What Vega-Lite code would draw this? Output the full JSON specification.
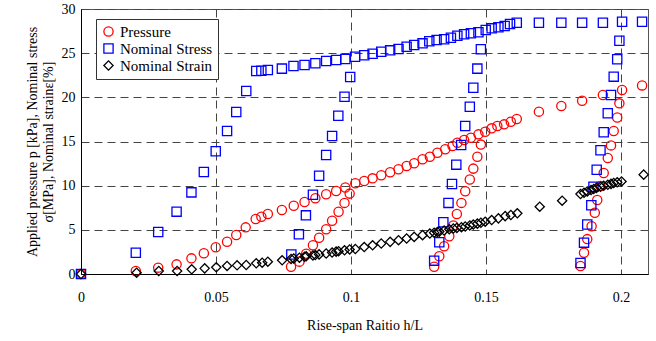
{
  "$schema": "https://vega.github.io/schema/vega-lite/v6.json",
  "width": 567,
  "height": 265,
  "autosize": {"type": "none"},
  "padding": {"left": 81, "top": 9, "right": 8, "bottom": 67},
  "background": "white",
  "config": {
    "font": "Liberation Serif",
    "view": {"stroke": "#555", "strokeWidth": 1},
    "axis": {
      "labelFont": "Liberation Serif",
      "titleFont": "Liberation Serif",
      "labelFontSize": 14,
      "titleFontSize": 14,
      "labelColor": "#000",
      "titleColor": "#000",
      "titleFontWeight": "normal",
      "domainColor": "#000",
      "grid": true,
      "gridColor": "#444",
      "gridDash": [8, 5],
      "gridOpacity": 1,
      "gridWidth": 1,
      "ticks": false
    },
    "legend": {
      "labelFont": "Liberation Serif",
      "labelFontSize": 14,
      "labelColor": "#000"
    }
  },
  "datasets": {
    "pts": [
      {"s": "Pressure", "x": 0, "y": 0},
      {"s": "Pressure", "x": 0.0203, "y": 0.34},
      {"s": "Pressure", "x": 0.0286, "y": 0.72},
      {"s": "Pressure", "x": 0.0354, "y": 1.09},
      {"s": "Pressure", "x": 0.0409, "y": 1.77},
      {"s": "Pressure", "x": 0.0455, "y": 2.34},
      {"s": "Pressure", "x": 0.0499, "y": 3.02},
      {"s": "Pressure", "x": 0.0541, "y": 3.66},
      {"s": "Pressure", "x": 0.0575, "y": 4.42},
      {"s": "Pressure", "x": 0.061, "y": 5.28},
      {"s": "Pressure", "x": 0.0647, "y": 6.23},
      {"s": "Pressure", "x": 0.0668, "y": 6.49},
      {"s": "Pressure", "x": 0.0692, "y": 6.79},
      {"s": "Pressure", "x": 0.0744, "y": 7.25},
      {"s": "Pressure", "x": 0.0788, "y": 7.73},
      {"s": "Pressure", "x": 0.0828, "y": 8.15},
      {"s": "Pressure", "x": 0.0868, "y": 8.57},
      {"s": "Pressure", "x": 0.0908, "y": 9.02},
      {"s": "Pressure", "x": 0.0945, "y": 9.4},
      {"s": "Pressure", "x": 0.0979, "y": 9.79},
      {"s": "Pressure", "x": 0.1016, "y": 10.27},
      {"s": "Pressure", "x": 0.1049, "y": 10.53},
      {"s": "Pressure", "x": 0.108, "y": 10.83},
      {"s": "Pressure", "x": 0.1112, "y": 11.17},
      {"s": "Pressure", "x": 0.1145, "y": 11.51},
      {"s": "Pressure", "x": 0.1176, "y": 11.85},
      {"s": "Pressure", "x": 0.1206, "y": 12.23},
      {"s": "Pressure", "x": 0.1234, "y": 12.53},
      {"s": "Pressure", "x": 0.1265, "y": 12.99},
      {"s": "Pressure", "x": 0.1292, "y": 13.28},
      {"s": "Pressure", "x": 0.132, "y": 13.73},
      {"s": "Pressure", "x": 0.1349, "y": 14.12},
      {"s": "Pressure", "x": 0.1376, "y": 14.49},
      {"s": "Pressure", "x": 0.1394, "y": 14.86},
      {"s": "Pressure", "x": 0.1419, "y": 15.17},
      {"s": "Pressure", "x": 0.1444, "y": 15.43},
      {"s": "Pressure", "x": 0.1472, "y": 15.81},
      {"s": "Pressure", "x": 0.1497, "y": 16.11},
      {"s": "Pressure", "x": 0.1521, "y": 16.49},
      {"s": "Pressure", "x": 0.1542, "y": 16.76},
      {"s": "Pressure", "x": 0.1567, "y": 16.94},
      {"s": "Pressure", "x": 0.1592, "y": 17.24},
      {"s": "Pressure", "x": 0.1614, "y": 17.55},
      {"s": "Pressure", "x": 0.1696, "y": 18.38},
      {"s": "Pressure", "x": 0.1779, "y": 19.02},
      {"s": "Pressure", "x": 0.1856, "y": 19.62},
      {"s": "Pressure", "x": 0.1933, "y": 20.26},
      {"s": "Pressure", "x": 0.2004, "y": 20.83},
      {"s": "Pressure", "x": 0.2078, "y": 21.35},
      {"s": "Pressure", "x": 0.0778, "y": 0.83},
      {"s": "Pressure", "x": 0.0809, "y": 1.4},
      {"s": "Pressure", "x": 0.0834, "y": 2.3},
      {"s": "Pressure", "x": 0.0859, "y": 3.25},
      {"s": "Pressure", "x": 0.0882, "y": 4.11},
      {"s": "Pressure", "x": 0.0908, "y": 5.06},
      {"s": "Pressure", "x": 0.093, "y": 6.02},
      {"s": "Pressure", "x": 0.0954, "y": 7.05},
      {"s": "Pressure", "x": 0.0976, "y": 8.05},
      {"s": "Pressure", "x": 0.0995, "y": 9.1},
      {"s": "Pressure", "x": 0.1308, "y": 0.83},
      {"s": "Pressure", "x": 0.1327, "y": 2.0},
      {"s": "Pressure", "x": 0.1345, "y": 3.15},
      {"s": "Pressure", "x": 0.1364, "y": 4.28},
      {"s": "Pressure", "x": 0.1379, "y": 5.5},
      {"s": "Pressure", "x": 0.1392, "y": 6.79},
      {"s": "Pressure", "x": 0.1409, "y": 8.05},
      {"s": "Pressure", "x": 0.1423, "y": 9.36},
      {"s": "Pressure", "x": 0.144, "y": 10.7},
      {"s": "Pressure", "x": 0.1453, "y": 11.93},
      {"s": "Pressure", "x": 0.1468, "y": 13.28},
      {"s": "Pressure", "x": 0.1481, "y": 14.65},
      {"s": "Pressure", "x": 0.185, "y": 0.9},
      {"s": "Pressure", "x": 0.1863, "y": 2.41},
      {"s": "Pressure", "x": 0.1875, "y": 3.95},
      {"s": "Pressure", "x": 0.1891, "y": 5.4},
      {"s": "Pressure", "x": 0.1903, "y": 6.94},
      {"s": "Pressure", "x": 0.1912, "y": 8.38},
      {"s": "Pressure", "x": 0.1924, "y": 9.95},
      {"s": "Pressure", "x": 0.1936, "y": 11.43},
      {"s": "Pressure", "x": 0.1951, "y": 13.14},
      {"s": "Pressure", "x": 0.1963, "y": 14.56},
      {"s": "Pressure", "x": 0.1973, "y": 16.19},
      {"s": "Pressure", "x": 0.1986, "y": 17.72},
      {"s": "Pressure", "x": 0.1994, "y": 19.32},

      {"s": "Nominal Stress", "x": 0, "y": 0},
      {"s": "Nominal Stress", "x": 0.0203, "y": 2.41},
      {"s": "Nominal Stress", "x": 0.0286, "y": 4.75},
      {"s": "Nominal Stress", "x": 0.0354, "y": 7.06},
      {"s": "Nominal Stress", "x": 0.0409, "y": 9.24},
      {"s": "Nominal Stress", "x": 0.0455, "y": 11.55},
      {"s": "Nominal Stress", "x": 0.0499, "y": 13.9},
      {"s": "Nominal Stress", "x": 0.0541, "y": 16.19},
      {"s": "Nominal Stress", "x": 0.0575, "y": 18.34},
      {"s": "Nominal Stress", "x": 0.0612, "y": 20.72},
      {"s": "Nominal Stress", "x": 0.0649, "y": 22.98},
      {"s": "Nominal Stress", "x": 0.0668, "y": 23.0},
      {"s": "Nominal Stress", "x": 0.0692, "y": 23.1},
      {"s": "Nominal Stress", "x": 0.0744, "y": 23.25},
      {"s": "Nominal Stress", "x": 0.0787, "y": 23.55},
      {"s": "Nominal Stress", "x": 0.0828, "y": 23.66},
      {"s": "Nominal Stress", "x": 0.0868, "y": 23.85},
      {"s": "Nominal Stress", "x": 0.0908, "y": 24.11},
      {"s": "Nominal Stress", "x": 0.0945, "y": 24.23},
      {"s": "Nominal Stress", "x": 0.0979, "y": 24.34},
      {"s": "Nominal Stress", "x": 0.1015, "y": 24.6},
      {"s": "Nominal Stress", "x": 0.1049, "y": 24.76},
      {"s": "Nominal Stress", "x": 0.108, "y": 24.94},
      {"s": "Nominal Stress", "x": 0.1112, "y": 25.17},
      {"s": "Nominal Stress", "x": 0.1145, "y": 25.32},
      {"s": "Nominal Stress", "x": 0.1176, "y": 25.47},
      {"s": "Nominal Stress", "x": 0.1206, "y": 25.73},
      {"s": "Nominal Stress", "x": 0.1234, "y": 25.93},
      {"s": "Nominal Stress", "x": 0.1265, "y": 26.11},
      {"s": "Nominal Stress", "x": 0.129, "y": 26.34},
      {"s": "Nominal Stress", "x": 0.1317, "y": 26.49},
      {"s": "Nominal Stress", "x": 0.1345, "y": 26.57},
      {"s": "Nominal Stress", "x": 0.137, "y": 26.75},
      {"s": "Nominal Stress", "x": 0.1394, "y": 26.98},
      {"s": "Nominal Stress", "x": 0.1419, "y": 27.14},
      {"s": "Nominal Stress", "x": 0.1444, "y": 27.25},
      {"s": "Nominal Stress", "x": 0.1472, "y": 27.36},
      {"s": "Nominal Stress", "x": 0.1499, "y": 27.62},
      {"s": "Nominal Stress", "x": 0.1521, "y": 27.81},
      {"s": "Nominal Stress", "x": 0.1546, "y": 27.93},
      {"s": "Nominal Stress", "x": 0.1569, "y": 28.08},
      {"s": "Nominal Stress", "x": 0.1589, "y": 28.3},
      {"s": "Nominal Stress", "x": 0.1614, "y": 28.45},
      {"s": "Nominal Stress", "x": 0.1696, "y": 28.45},
      {"s": "Nominal Stress", "x": 0.1779, "y": 28.45},
      {"s": "Nominal Stress", "x": 0.1856, "y": 28.45},
      {"s": "Nominal Stress", "x": 0.1933, "y": 28.45},
      {"s": "Nominal Stress", "x": 0.2004, "y": 28.56},
      {"s": "Nominal Stress", "x": 0.2078, "y": 28.56},
      {"s": "Nominal Stress", "x": 0.0779, "y": 2.2},
      {"s": "Nominal Stress", "x": 0.0807, "y": 4.49},
      {"s": "Nominal Stress", "x": 0.0833, "y": 6.64},
      {"s": "Nominal Stress", "x": 0.0859, "y": 8.98},
      {"s": "Nominal Stress", "x": 0.0882, "y": 11.13},
      {"s": "Nominal Stress", "x": 0.0908, "y": 13.47},
      {"s": "Nominal Stress", "x": 0.093, "y": 15.62},
      {"s": "Nominal Stress", "x": 0.0953, "y": 17.92},
      {"s": "Nominal Stress", "x": 0.0976, "y": 20.07},
      {"s": "Nominal Stress", "x": 0.0997, "y": 22.3},
      {"s": "Nominal Stress", "x": 0.1308, "y": 1.51},
      {"s": "Nominal Stress", "x": 0.1327, "y": 3.59},
      {"s": "Nominal Stress", "x": 0.1342, "y": 5.85},
      {"s": "Nominal Stress", "x": 0.1361, "y": 8.05},
      {"s": "Nominal Stress", "x": 0.1374, "y": 10.19},
      {"s": "Nominal Stress", "x": 0.139, "y": 12.38},
      {"s": "Nominal Stress", "x": 0.1408, "y": 14.6},
      {"s": "Nominal Stress", "x": 0.1423, "y": 16.76},
      {"s": "Nominal Stress", "x": 0.144, "y": 18.94},
      {"s": "Nominal Stress", "x": 0.1453, "y": 21.09},
      {"s": "Nominal Stress", "x": 0.1468, "y": 23.25},
      {"s": "Nominal Stress", "x": 0.1481, "y": 25.44},
      {"s": "Nominal Stress", "x": 0.185, "y": 1.25},
      {"s": "Nominal Stress", "x": 0.1863, "y": 3.55},
      {"s": "Nominal Stress", "x": 0.1875, "y": 5.6},
      {"s": "Nominal Stress", "x": 0.189, "y": 7.78},
      {"s": "Nominal Stress", "x": 0.1898, "y": 9.88},
      {"s": "Nominal Stress", "x": 0.191, "y": 11.8},
      {"s": "Nominal Stress", "x": 0.1924, "y": 14.0},
      {"s": "Nominal Stress", "x": 0.1936, "y": 16.04},
      {"s": "Nominal Stress", "x": 0.1951, "y": 18.19},
      {"s": "Nominal Stress", "x": 0.1963, "y": 20.26},
      {"s": "Nominal Stress", "x": 0.1973, "y": 22.34},
      {"s": "Nominal Stress", "x": 0.1986, "y": 24.32},
      {"s": "Nominal Stress", "x": 0.1994, "y": 26.4},

      {"s": "Nominal Strain", "x": 0, "y": 0},
      {"s": "Nominal Strain", "x": 0.0206, "y": 0.15},
      {"s": "Nominal Strain", "x": 0.0288, "y": 0.34},
      {"s": "Nominal Strain", "x": 0.0356, "y": 0.34},
      {"s": "Nominal Strain", "x": 0.041, "y": 0.53},
      {"s": "Nominal Strain", "x": 0.0458, "y": 0.64},
      {"s": "Nominal Strain", "x": 0.0501, "y": 0.76},
      {"s": "Nominal Strain", "x": 0.0541, "y": 0.91},
      {"s": "Nominal Strain", "x": 0.0578, "y": 0.98},
      {"s": "Nominal Strain", "x": 0.0612, "y": 1.02},
      {"s": "Nominal Strain", "x": 0.0649, "y": 1.21},
      {"s": "Nominal Strain", "x": 0.0671, "y": 1.28},
      {"s": "Nominal Strain", "x": 0.0692, "y": 1.39},
      {"s": "Nominal Strain", "x": 0.0745, "y": 1.55},
      {"s": "Nominal Strain", "x": 0.0778, "y": 1.7},
      {"s": "Nominal Strain", "x": 0.0788, "y": 1.76},
      {"s": "Nominal Strain", "x": 0.0809, "y": 1.85},
      {"s": "Nominal Strain", "x": 0.0828, "y": 1.95},
      {"s": "Nominal Strain", "x": 0.0834, "y": 2.0},
      {"s": "Nominal Strain", "x": 0.0859, "y": 2.1},
      {"s": "Nominal Strain", "x": 0.0868, "y": 2.15},
      {"s": "Nominal Strain", "x": 0.0882, "y": 2.22},
      {"s": "Nominal Strain", "x": 0.0908, "y": 2.32},
      {"s": "Nominal Strain", "x": 0.093, "y": 2.43},
      {"s": "Nominal Strain", "x": 0.0945, "y": 2.53},
      {"s": "Nominal Strain", "x": 0.0954, "y": 2.58},
      {"s": "Nominal Strain", "x": 0.0976, "y": 2.68},
      {"s": "Nominal Strain", "x": 0.0995, "y": 2.78},
      {"s": "Nominal Strain", "x": 0.1016, "y": 2.83},
      {"s": "Nominal Strain", "x": 0.1049, "y": 3.05},
      {"s": "Nominal Strain", "x": 0.108, "y": 3.25},
      {"s": "Nominal Strain", "x": 0.1112, "y": 3.45},
      {"s": "Nominal Strain", "x": 0.1145, "y": 3.64},
      {"s": "Nominal Strain", "x": 0.1176, "y": 3.83},
      {"s": "Nominal Strain", "x": 0.1206, "y": 4.02},
      {"s": "Nominal Strain", "x": 0.1234, "y": 4.2},
      {"s": "Nominal Strain", "x": 0.1265, "y": 4.4},
      {"s": "Nominal Strain", "x": 0.1292, "y": 4.58},
      {"s": "Nominal Strain", "x": 0.1308, "y": 4.68},
      {"s": "Nominal Strain", "x": 0.132, "y": 4.76},
      {"s": "Nominal Strain", "x": 0.1327, "y": 4.8},
      {"s": "Nominal Strain", "x": 0.1345, "y": 4.92},
      {"s": "Nominal Strain", "x": 0.1364, "y": 5.06},
      {"s": "Nominal Strain", "x": 0.1379, "y": 5.15},
      {"s": "Nominal Strain", "x": 0.1392, "y": 5.22},
      {"s": "Nominal Strain", "x": 0.1409, "y": 5.3},
      {"s": "Nominal Strain", "x": 0.1423, "y": 5.38},
      {"s": "Nominal Strain", "x": 0.144, "y": 5.5},
      {"s": "Nominal Strain", "x": 0.1453, "y": 5.6},
      {"s": "Nominal Strain", "x": 0.1468, "y": 5.7},
      {"s": "Nominal Strain", "x": 0.1481, "y": 5.8},
      {"s": "Nominal Strain", "x": 0.1497, "y": 5.92},
      {"s": "Nominal Strain", "x": 0.1521, "y": 6.11},
      {"s": "Nominal Strain", "x": 0.1546, "y": 6.3},
      {"s": "Nominal Strain", "x": 0.1571, "y": 6.55},
      {"s": "Nominal Strain", "x": 0.1592, "y": 6.68},
      {"s": "Nominal Strain", "x": 0.1616, "y": 6.87},
      {"s": "Nominal Strain", "x": 0.1699, "y": 7.62},
      {"s": "Nominal Strain", "x": 0.1782, "y": 8.3},
      {"s": "Nominal Strain", "x": 0.185, "y": 9.05},
      {"s": "Nominal Strain", "x": 0.1863, "y": 9.2},
      {"s": "Nominal Strain", "x": 0.1875, "y": 9.35},
      {"s": "Nominal Strain", "x": 0.1889, "y": 9.5},
      {"s": "Nominal Strain", "x": 0.1899, "y": 9.62},
      {"s": "Nominal Strain", "x": 0.1909, "y": 9.75},
      {"s": "Nominal Strain", "x": 0.1924, "y": 9.88},
      {"s": "Nominal Strain", "x": 0.1936, "y": 10.0},
      {"s": "Nominal Strain", "x": 0.1951, "y": 10.1},
      {"s": "Nominal Strain", "x": 0.1963, "y": 10.2},
      {"s": "Nominal Strain", "x": 0.1973, "y": 10.3},
      {"s": "Nominal Strain", "x": 0.1986, "y": 10.38},
      {"s": "Nominal Strain", "x": 0.2002, "y": 10.48},
      {"s": "Nominal Strain", "x": 0.2084, "y": 11.25}
    ]
  },
  "data": {"name": "pts"},
  "mark": {"type": "point", "filled": false, "strokeWidth": 1.3, "size": 85, "opacity": 1},
  "encoding": {
    "x": {
      "field": "x", "type": "quantitative",
      "scale": {"domain": [0, 0.21], "nice": false, "zero": false},
      "axis": {"values": [0, 0.05, 0.1, 0.15, 0.2], "format": "~g", "labelPadding": 16, "title": "Rise-span Raitio h/L", "titlePadding": 14, "labelFlush": false, "labelFont": "Liberation Serif", "labelFontSize": 14, "titleFont": "Liberation Serif", "titleFontSize": 14}
    },
    "y": {
      "field": "y", "type": "quantitative",
      "scale": {"domain": [0, 30], "nice": false},
      "axis": {"values": [0, 5, 10, 15, 20, 25, 30], "labelPadding": 6, "title": ["Applied pressure p [kPa], Nominal stress", "σ[MPa], Nominal strainε[%]"], "titlePadding": 6, "labelFlush": false, "labelFont": "Liberation Serif", "labelFontSize": 14, "titleFont": "Liberation Serif", "titleFontSize": 14}
    },
    "color": {
      "field": "s", "type": "nominal",
      "scale": {"domain": ["Pressure", "Nominal Stress", "Nominal Strain"], "range": ["#ff0000", "#0000ff", "#000000"]},
      "legend": {"title": null, "orient": "none", "legendX": 15, "legendY": 10, "strokeColor": "#333", "fillColor": "white", "padding": 5, "rowPadding": 1, "symbolSize": 85, "symbolStrokeWidth": 1.3, "labelOffset": 4, "labelFont": "Liberation Serif", "labelFontSize": 15, "labelColor": "#000"}
    },
    "shape": {
      "field": "s", "type": "nominal",
      "scale": {"domain": ["Pressure", "Nominal Stress", "Nominal Strain"], "range": ["circle", "square", "diamond"]}
    }
  }
}
